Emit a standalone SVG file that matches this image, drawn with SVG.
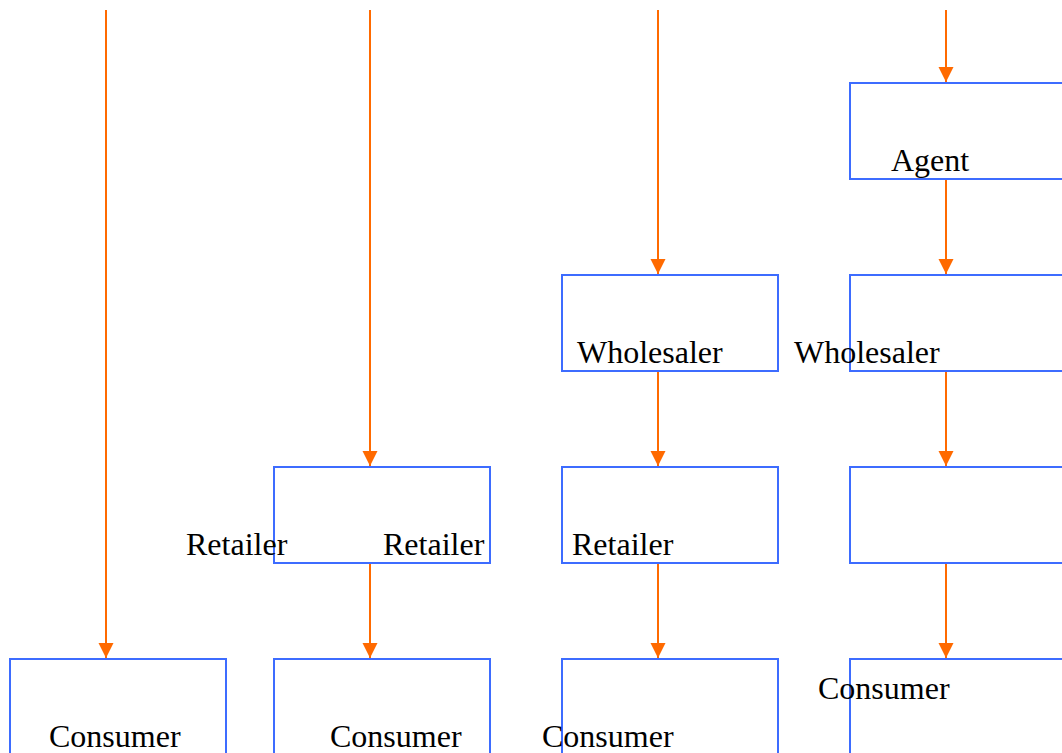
<svg xmlns="http://www.w3.org/2000/svg" width="1062" height="753" viewBox="0 0 1062 753">
  <style>
    .box { fill: #ffffff; stroke: #3d6cff; stroke-width: 2; }
    .flow { stroke: #ff6a00; stroke-width: 2; fill: none; marker-end: url(#head); }
    .lbl { font-family: "Liberation Serif", "Times New Roman", serif; font-size: 32px; fill: #000000; }
  </style>
  <defs>
    <marker id="head" markerWidth="16" markerHeight="16" refX="15" refY="7.5" orient="auto" markerUnits="userSpaceOnUse">
      <path d="M0,0 L15,7.5 L0,15 Z" fill="#ff6a00"/>
    </marker>
  </defs>
  <rect width="1062" height="753" fill="#ffffff"/>

  <g id="connectors">
    <line class="flow" x1="106" y1="10" x2="106" y2="658"/>
    <line class="flow" x1="370" y1="10" x2="370" y2="466"/>
    <line class="flow" x1="370" y1="562" x2="370" y2="658"/>
    <line class="flow" x1="658" y1="10" x2="658" y2="274"/>
    <line class="flow" x1="658" y1="370" x2="658" y2="466"/>
    <line class="flow" x1="658" y1="562" x2="658" y2="658"/>
    <line class="flow" x1="946" y1="10" x2="946" y2="82"/>
    <line class="flow" x1="946" y1="178" x2="946" y2="274"/>
    <line class="flow" x1="946" y1="370" x2="946" y2="466"/>
    <line class="flow" x1="946" y1="562" x2="946" y2="658"/>
  </g>

  <g id="consumer-1">
    <rect class="box" x="10" y="659" width="216" height="96"/>
    <text class="lbl" x="49" y="747">Consumer</text>
  </g>

  <g id="retailer-2">
    <rect class="box" x="274" y="467" width="216" height="96"/>
    <text class="lbl" x="186" y="555">Retailer</text>
    <text class="lbl" x="383" y="555">Retailer</text>
  </g>
  <g id="consumer-2">
    <rect class="box" x="274" y="659" width="216" height="96"/>
    <text class="lbl" x="330" y="747">Consumer</text>
  </g>

  <g id="wholesaler-3">
    <rect class="box" x="562" y="275" width="216" height="96"/>
    <text class="lbl" x="577" y="363">Wholesaler</text>
  </g>
  <g id="retailer-3">
    <rect class="box" x="562" y="467" width="216" height="96"/>
    <text class="lbl" x="572" y="555">Retailer</text>
  </g>
  <g id="consumer-3">
    <rect class="box" x="562" y="659" width="216" height="96"/>
    <text class="lbl" x="542" y="747">Consumer</text>
  </g>

  <g id="agent-4">
    <rect class="box" x="850" y="83" width="216" height="96"/>
    <text class="lbl" x="891" y="171">Agent</text>
  </g>
  <g id="wholesaler-4">
    <rect class="box" x="850" y="275" width="216" height="96"/>
    <text class="lbl" x="794" y="363">Wholesaler</text>
  </g>
  <g id="retailer-4">
    <rect class="box" x="850" y="467" width="216" height="96"/>
  </g>
  <g id="consumer-4">
    <rect class="box" x="850" y="659" width="216" height="96"/>
    <text class="lbl" x="818" y="699">Consumer</text>
  </g>
</svg>
